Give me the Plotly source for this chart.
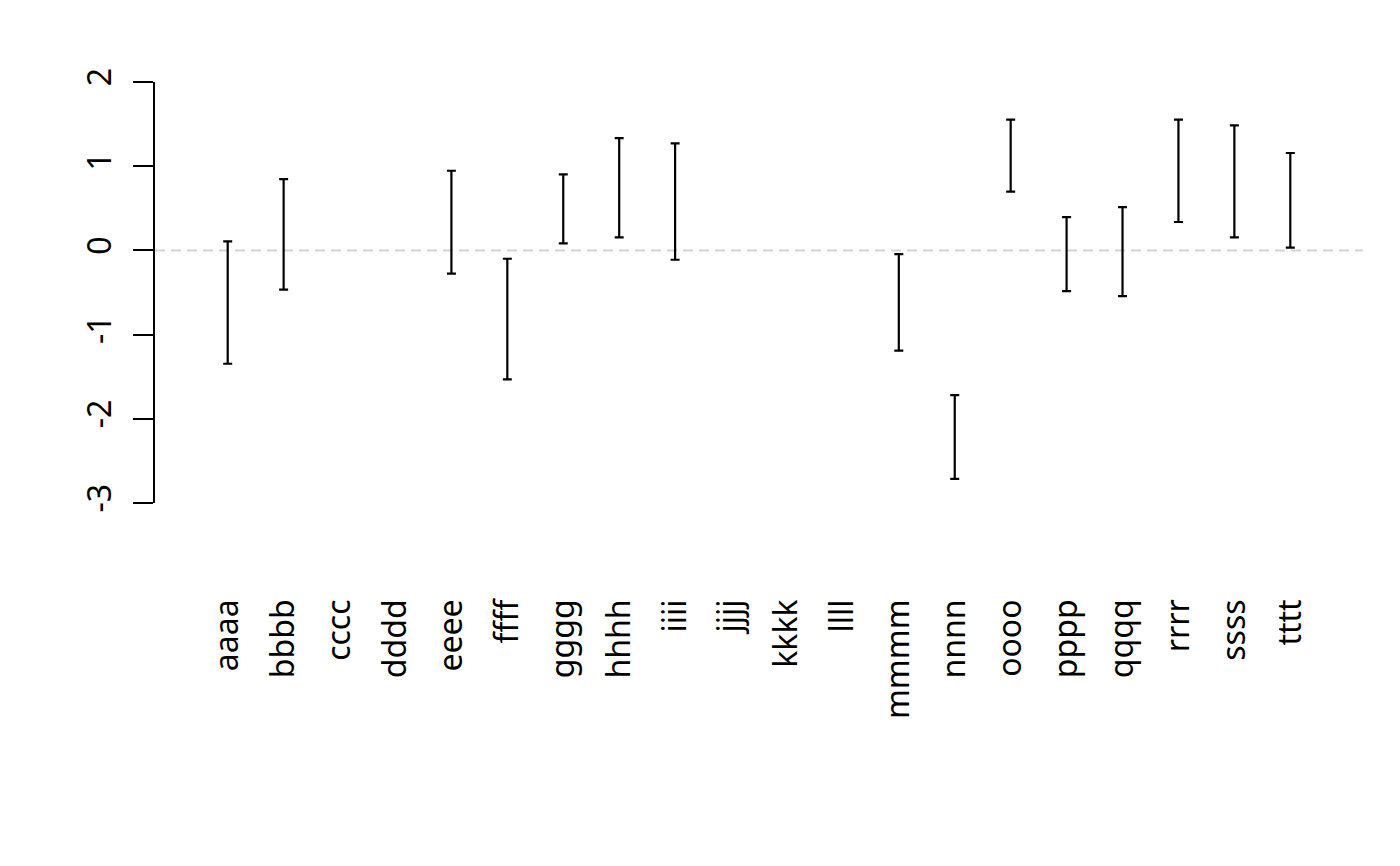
import plotly.graph_objects as go

categories = ["aaaa", "bbbb", "cccc", "dddd", "eeee", "ffff", "gggg", "hhhh", "iiii", "jjjj",
              "kkkk", "llll", "mmmm", "nnnn", "oooo", "pppp", "qqqq", "rrrr", "ssss", "tttt"]
lower = [-1.346, -0.467, None, None, -0.277, -1.532, 0.083, 0.154, -0.111, None,
         None, None, -1.191, -2.714, 0.697, -0.483, -0.542, 0.337, 0.155, 0.032]
upper = [0.107, 0.847, None, None, 0.946, -0.099, 0.903, 1.334, 1.271, None,
         None, None, -0.045, -1.718, 1.552, 0.396, 0.515, 1.552, 1.485, 1.157]
y_ticks = [-3, -2, -1, 0, 1, 2]

mid, err = [], []
for lo, hi in zip(lower, upper):
    if lo is None:
        mid.append(None)
        err.append(None)
    else:
        mid.append((lo + hi) / 2)
        err.append((hi - lo) / 2)

font = "Noto Sans"

fig = go.Figure()
fig.add_trace(go.Scatter(
    x=categories, y=mid, mode="markers",
    marker=dict(size=1, color="rgba(0,0,0,0)"),
    error_y=dict(type="data", array=err, symmetric=True, color="black",
                 thickness=2.2, width=4.5),
    showlegend=False, hoverinfo="skip",
))
fig.add_hline(y=0, line=dict(color="#D3D3D3", width=2, dash="10px,6px"), layer="below")

fig.update_layout(
    width=1400, height=866,
    margin=dict(l=147, r=45, t=74, b=371),
    paper_bgcolor="white", plot_bgcolor="white",
    font=dict(family=font, size=32, color="black"),
    xaxis=dict(
        type="category", categoryorder="array", categoryarray=categories,
        range=[-1.3, 20.3], showgrid=False, zeroline=False, showline=False,
        ticks="", tickangle=-90, ticklabelstandoff=89,
        tickfont=dict(family=font, size=32, color="black"),
    ),
    yaxis=dict(
        range=[-3, 2], tickvals=y_ticks, ticktext=[str(v) for v in y_ticks],
        showgrid=False, zeroline=False, showline=True, linecolor="black", linewidth=2,
        ticks="outside", ticklen=20, tickwidth=2, tickcolor="black",
        tickangle=-90, ticklabelstandoff=9,
        tickfont=dict(family=font, size=32, color="black"),
    ),
)

fig.write_html("out.html")
